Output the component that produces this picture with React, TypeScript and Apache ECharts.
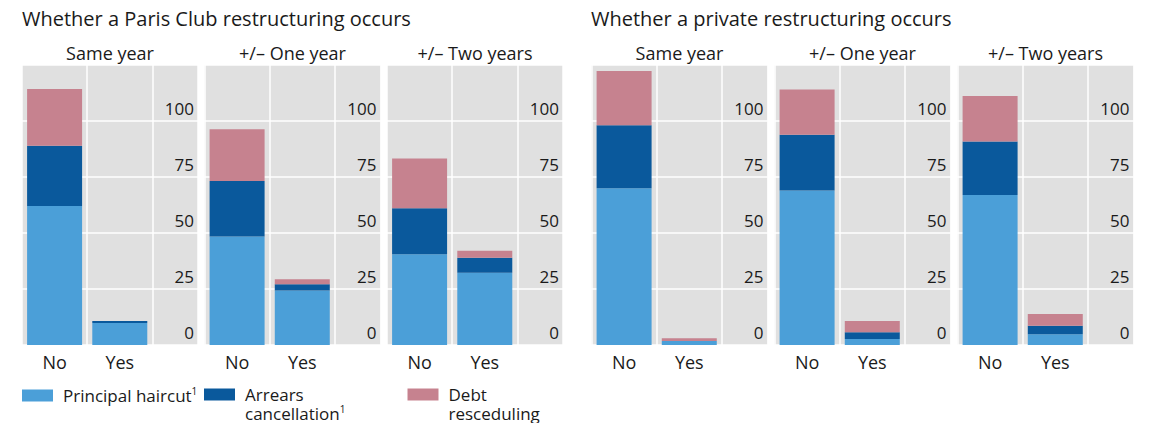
import React, { useEffect, useRef } from "react";
import * as echarts from "echarts";

const groupTitles = ["Whether a Paris Club restructuring occurs", "Whether a private restructuring occurs"];
const panelTitles = ["Same year", "+/– One year", "+/– Two years", "Same year", "+/– One year", "+/– Two years"];
const categories = ["No", "Yes"];
const seriesNames = ["Principal haircut", "Arrears cancellation", "Debt resceduling"];
const yTicks = [0, 25, 50, 75, 100];

// values per panel: [No, Yes]
const principalHaircut = [
  [62, 9.8],
  [48.4, 24.3],
  [40.5, 32.3],
  [70, 1.8],
  [69, 2.7],
  [67, 4.8],
];
const arrearsCancellation = [
  [27, 0.9],
  [24.8, 2.8],
  [20.5, 6.7],
  [28.1, 0],
  [24.9, 3],
  [23.9, 3.8],
];
const debtRescheduling = [
  [25.3, 0],
  [23.1, 2.2],
  [22.3, 3.1],
  [24.2, 1.2],
  [20.2, 5],
  [20.3, 5.2],
];

const colors = ["#4b9fd8", "#0a599c", "#c6828f"];
const panelLefts = [22, 204.5, 387, 591.5, 774.5, 957.5];
const PANEL_W = 176;
const FONT = "'Open Sans', sans-serif";
const TEXT = "#1a1a1a";

export default function App() {
  const ref = useRef<HTMLDivElement>(null);
  useEffect(() => {
    document.body.style.margin = "0";
    if (!ref.current) return;
    const chart = echarts.init(ref.current, null, { renderer: "svg" });
    const values = [principalHaircut, arrearsCancellation, debtRescheduling];

    const grids = panelLefts.map((l) => ({
      left: l,
      top: 65,
      width: PANEL_W,
      height: 280,
      show: true,
      backgroundColor: "#e0e0e0",
      borderWidth: 0,
      containLabel: false,
    }));

    const xAxes = panelLefts.map((_, i) => ({
      gridIndex: i,
      type: "value",
      min: -0.5,
      max: 2.2,
      interval: 0.5,
      axisLine: { show: false },
      axisTick: { show: false },
      axisLabel: {
        fontSize: 18,
        color: TEXT,
        fontFamily: FONT,
        margin: 8,
        formatter: (v: number) => (v === 0 ? categories[0] : v === 1 ? categories[1] : ""),
      },
      splitLine: { show: true, lineStyle: { color: ["#ffffff", "rgba(0,0,0,0)"], width: 1.5 } },
    }));

    const yAxes = panelLefts.map((_, i) => ({
      gridIndex: i,
      type: "value",
      position: "right",
      min: 0,
      max: 125,
      interval: 25,
      axisLine: { show: false },
      axisTick: { show: false },
      axisLabel: {
        inside: true,
        margin: 4,
        fontSize: 17,
        color: TEXT,
        fontFamily: FONT,
        verticalAlign: "bottom",
        padding: [0, 0, 4, 0],
        formatter: (v: number) => (yTicks.includes(v) ? String(v) : ""),
      },
      splitLine: { show: true, lineStyle: { color: "#ffffff", width: 1.5 } },
    }));

    const series: any[] = [];
    panelLefts.forEach((_, p) => {
      values.forEach((vals, s) => {
        series.push({
          type: "bar",
          name: seriesNames[s],
          xAxisIndex: p,
          yAxisIndex: p,
          stack: "panel" + p,
          barWidth: 55,
          itemStyle: { color: colors[s] },
          // value first so that the stacked dimension is the y value
          encode: { x: 1, y: 0 },
          data: vals[p].map((v, k) => [v, k]),
        });
      });
    });

    const titles: any[] = [
      ...groupTitles.map((t, i) => ({
        text: t,
        left: i === 0 ? 22 : 591,
        top: 8,
        padding: 0,
        textStyle: { fontSize: 20, fontWeight: "normal", color: TEXT, fontFamily: FONT },
      })),
      ...panelTitles.map((t, i) => ({
        text: t,
        left: panelLefts[i] + PANEL_W / 2,
        textAlign: "center",
        top: 44,
        padding: 0,
        textStyle: { fontSize: 18, fontWeight: "normal", color: TEXT, fontFamily: FONT },
      })),
    ];

    const legendText = (name: string) => {
      if (name === seriesNames[0]) return "Principal haircut{sup|1}";
      if (name === seriesNames[1]) return "Arrears\ncancellation{sup|1}";
      return "Debt\nresceduling";
    };
    const legendLefts = [22, 204, 407.5];
    const legends = seriesNames.map((n, i) => ({
      data: [n],
      left: legendLefts[i],
      top: i === 0 ? 386 : 366,
      padding: 0,
      itemWidth: 31,
      itemHeight: 12,
      icon: "rect",
      formatter: legendText,
      textStyle: {
        fontSize: 17,
        color: TEXT,
        fontFamily: FONT,
        lineHeight: 19,
        padding: i === 0 ? [0, 0, 0, 5] : [19, 0, 0, 5],
        rich: {
          sup: { fontSize: 10, lineHeight: 10, verticalAlign: "top", color: TEXT, fontFamily: FONT },
        },
      },
    }));

    chart.setOption({
      animation: false,
      textStyle: { fontFamily: FONT },
      title: titles,
      legend: legends,
      grid: grids,
      xAxis: xAxes,
      yAxis: yAxes,
      series,
    });
    return () => chart.dispose();
  }, []);
  return <div ref={ref} style={{ width: 1149, height: 423 }} />;
}
